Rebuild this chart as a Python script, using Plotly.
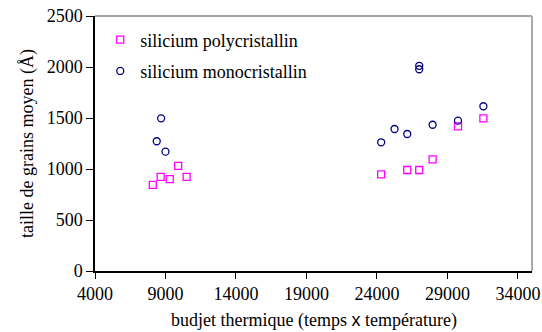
import plotly.graph_objects as go

# Thermal budget (time x temperature) and mean grain size (Å)
poly_x = [8100, 8660, 9300, 9900, 10500, 24300, 26150, 27000, 27950, 29750, 31550]
poly_y = [845, 922, 900, 1030, 922, 948, 990, 990, 1095, 1418, 1497]

mono_x = [8380, 8690, 9000, 24300, 25250, 26150, 27000, 27000, 27950, 29750, 31550]
mono_y = [1272, 1497, 1170, 1262, 1392, 1343, 2012, 1978, 1434, 1474, 1615]

x_ticks = [4000, 9000, 14000, 19000, 24000, 29000, 34000]
y_ticks = [0, 500, 1000, 1500, 2000, 2500]

FONT = "Liberation Serif, Times New Roman, serif"
FS = 18

fig = go.Figure()
fig.add_trace(go.Scatter(
    x=poly_x, y=poly_y, mode="markers", name="silicium polycristallin",
    legendgroup="poly",
    marker=dict(symbol="square-open", size=7, color="#FF00FF", line=dict(width=1.3)),
))
fig.add_trace(go.Scatter(
    x=mono_x, y=mono_y, mode="markers", name="silicium monocristallin",
    legendgroup="mono",
    marker=dict(symbol="circle-open", size=7, color="#000080", line=dict(width=1.3)),
))

# grey frame on top and right sides of the plot area
fig.add_shape(type="line", xref="paper", yref="paper", x0=0, x1=1, y0=1, y1=1,
              line=dict(color="#888888", width=1.5))
fig.add_shape(type="line", xref="paper", yref="paper", x0=1, x1=1, y0=0, y1=1,
              line=dict(color="#AAAAAA", width=2))

# x-axis title placed below the tick labels
fig.add_annotation(
    text="budjet thermique (temps "
         "<span style='font-family:Liberation Sans'>x</span>"
         " température)",
    xref="paper", yref="paper", x=0.5, y=-0.196,
    xanchor="center", yanchor="middle", showarrow=False,
    font=dict(family=FONT, size=FS, color="black"),
)

fig.update_layout(
    width=542, height=332,
    margin=dict(l=95, r=10, t=16, b=61, autoexpand=False),
    paper_bgcolor="white", plot_bgcolor="white",
    font=dict(family=FONT, size=FS, color="black"),
    showlegend=True,
    legend=dict(x=0.012, y=0.979, xanchor="left", yanchor="top",
                bgcolor="rgba(0,0,0,0)", font=dict(family=FONT, size=FS),
                itemwidth=30, tracegroupgap=5),
    xaxis=dict(
        range=[4000, 35000], tickvals=x_ticks, ticktext=[str(v) for v in x_ticks],
        showgrid=False, zeroline=False, showline=True, linecolor="black", linewidth=1.5,
        ticks="outside", ticklen=6, tickcolor="black", tickwidth=1,
        tickfont=dict(family=FONT, size=FS), automargin=False,
    ),
    yaxis=dict(
        range=[0, 2500], tickvals=y_ticks, ticktext=[str(v) for v in y_ticks],
        showgrid=False, zeroline=False, showline=True, linecolor="black", linewidth=1.5,
        ticks="outside", ticklen=7, tickcolor="black", tickwidth=1,
        tickfont=dict(family=FONT, size=FS), automargin=False,
        title=dict(text="taille de grains moyen (Å)",
                   font=dict(family=FONT, size=FS), standoff=8),
    ),
)

fig.write_html("out.html")
